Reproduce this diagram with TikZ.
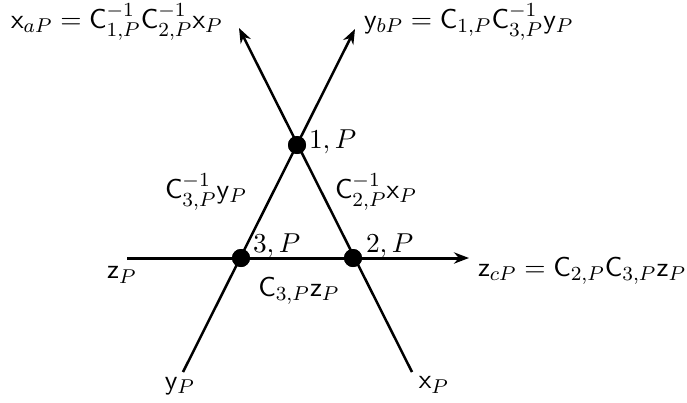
\documentclass[tikz,border=0pt]{standalone}
\usetikzlibrary{arrows.meta}
\begin{document}
\begin{tikzpicture}[x=0.4pt,y=-0.4pt,
  font=\fontsize{10.9}{13}\selectfont,
  arr/.style={line width=1pt,-{Stealth[length=6pt,width=4.5pt]}},
  dot/.style={circle,fill=black,inner sep=0pt,minimum size=7.2pt},
  lbl/.style={inner sep=1pt}]
\useasboundingbox (0,0) rectangle (687,402);
% end coordinates
\coordinate (xs) at (412,372);
\coordinate (xe) at (239,28);
\coordinate (ys) at (183,372);
\coordinate (ye) at (355,29);
\coordinate (zs) at (127,258);
\coordinate (ze) at (469,258);
% dots
\node[dot] (d1) at (297,145) {};
\node[dot] (d3) at (241,258) {};
\node[dot] (d2) at (353,258) {};
% lines
\draw[arr] (xs) -- (xe);
\draw[arr] (ys) -- (ye);
\draw[arr,line width=1.2pt] (zs) -- (ze);
\node[dot] at (d1) {};
\node[dot] at (d3) {};
\node[dot] at (d2) {};
% dot labels
\node[lbl,anchor=base west] (l1) at (306,148) {$1,P$};
\node[lbl,anchor=base west] (l3) at (250,252) {$3,P$};
\node[lbl,anchor=base west] (l2) at (363,252) {$2,P$};
% edge labels
\node[lbl] (ly) at (206,192) {$\mathsf{C}_{3,P}^{-1}\mathsf{y}_P$};
\node[lbl] (lx) at (376,192) {$\mathsf{C}_{2,P}^{-1}\mathsf{x}_P$};
\node[lbl] (lz) at (299,291) {$\mathsf{C}_{3,P}\mathsf{z}_P$};
% end labels
\node[lbl] (xa) at (117,22) {$\mathsf{x}_{aP}=\mathsf{C}_{1,P}^{-1}\mathsf{C}_{2,P}^{-1}\mathsf{x}_P$};
\node[lbl,anchor=west] (yb) at (361,22) {$\mathsf{y}_{bP}=\mathsf{C}_{1,P}\mathsf{C}_{3,P}^{-1}\mathsf{y}_P$};
\node[lbl,anchor=west] (zc) at (475,271) {$\mathsf{z}_{cP}=\mathsf{C}_{2,P}\mathsf{C}_{3,P}\mathsf{z}_P$};
\node[lbl] (zp) at (122,275) {$\mathsf{z}_P$};
\node[lbl] (yp) at (180,386) {$\mathsf{y}_P$};
\node[lbl] (xp) at (434,385) {$\mathsf{x}_P$};
\end{tikzpicture}
\end{document}
